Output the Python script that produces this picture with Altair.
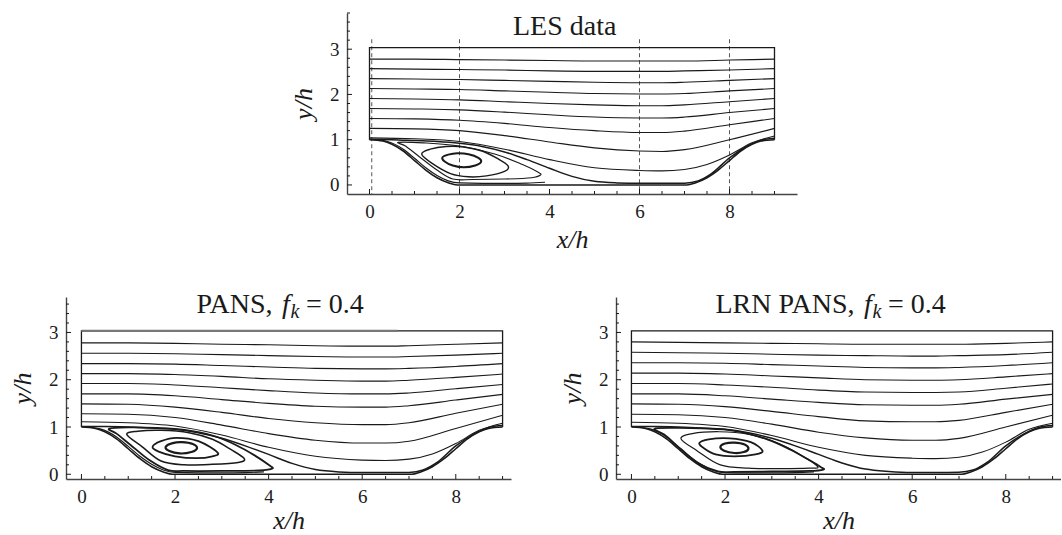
import altair as alt
import pandas as pd

FONT = "Liberation Serif"
INK = "#1a1a1a"

# ---------------- geometry (x/h, y/h) ----------------
BOX_X = [0, 0, 9, 9]
BOX_Y = [1.0, 3.035, 3.035, 1.0]
HILL_X = [0, 0.3, 0.5, 0.75, 1.0, 1.25, 1.5, 1.75, 1.95, 7.05, 7.25, 7.5, 7.75, 8.0, 8.25, 8.5, 8.7, 9.0]
HILL_Y = [1.0, 0.97, 0.9, 0.75, 0.54, 0.33, 0.16, 0.05, 0.0, 0.0, 0.05, 0.16, 0.33, 0.54, 0.75, 0.9, 0.97, 1.0]

GRID_X = [0, 1, 2, 3, 4, 5, 6, 6.5, 7, 8, 9]
TAIL_X = [0, 1, 2, 3, 4, 5, 6, 6.5, 7, 7.5, 8, 8.5, 9]
DIV_X = [0, 0.5, 1.0, 1.5, 2.0, 2.5, 3.0, 3.5, 4.0, 4.5, 5.0, 5.5, 6.0, 6.5, 7.0, 7.3, 7.6, 8.0, 8.4, 8.7, 9.0]
NW_X = [0.1, 0.4, 0.75, 1.0, 1.25, 1.5, 1.75, 2.0, 2.5, 3.0, 3.5, 3.9]

# ---------------- LES data ----------------
LES_L2 = [2.78, 2.78, 2.77, 2.76, 2.75, 2.74, 2.74, 2.74, 2.74, 2.76, 2.78]
LES_L3 = [2.57, 2.56, 2.55, 2.54, 2.52, 2.51, 2.51, 2.51, 2.52, 2.54, 2.57]
LES_L4 = [2.35, 2.34, 2.33, 2.31, 2.29, 2.27, 2.26, 2.26, 2.27, 2.31, 2.35]
LES_L5 = [2.13, 2.12, 2.11, 2.08, 2.05, 2.02, 2.01, 2.01, 2.02, 2.08, 2.13]
LES_L6 = [1.91, 1.90, 1.88, 1.84, 1.80, 1.77, 1.75, 1.75, 1.77, 1.84, 1.91]
LES_L7 = [1.69, 1.68, 1.66, 1.61, 1.55, 1.50, 1.48, 1.48, 1.50, 1.60, 1.69]
LES_L8 = [1.47, 1.46, 1.43, 1.36, 1.27, 1.20, 1.16, 1.16, 1.19, 1.33, 1.47]
LES_L9 = [1.25, 1.24, 1.20, 1.09, 0.95, 0.82, 0.75, 0.74, 0.78, 1.00, 1.25]
LES_L10 = [1.04, 1.02, 0.96, 0.79, 0.56, 0.38, 0.32, 0.31, 0.34, 0.45, 0.66, 0.93, 1.08]
LES_DIV = [1.01, 1.0, 0.98, 0.96, 0.92, 0.85, 0.73, 0.56, 0.37, 0.19, 0.08, 0.045, 0.035, 0.035, 0.04, 0.09, 0.25, 0.6, 0.86, 0.99, 1.03]
LES_NW = [1.0, 0.96, 0.79, 0.59, 0.38, 0.21, 0.09, 0.045, 0.035, 0.035, 0.04, 0.06]
LES_LOOP1_X = [0.64, 1.2, 2.0, 2.8, 3.4, 3.75, 3.8, 3.6, 3.0, 2.3, 1.85, 1.5, 1.1, 0.8]
LES_LOOP1_Y = [0.94, 0.93, 0.86, 0.68, 0.45, 0.28, 0.22, 0.16, 0.13, 0.12, 0.13, 0.33, 0.63, 0.86]
LES_LOOP2_X = [1.16, 1.35, 1.7, 2.1, 2.5, 2.85, 3.08, 3.0, 2.6, 2.2, 1.8, 1.4]
LES_LOOP2_Y = [0.68, 0.79, 0.85, 0.84, 0.75, 0.58, 0.42, 0.3, 0.2, 0.18, 0.25, 0.47]
LES_LOOP3_X = [1.62, 1.75, 1.95, 2.2, 2.42, 2.48, 2.35, 2.1, 1.85, 1.67]
LES_LOOP3_Y = [0.61, 0.67, 0.70, 0.68, 0.6, 0.51, 0.43, 0.39, 0.43, 0.52]
PROFILE_X = [0.05, 2, 6, 8]

# ---------------- PANS, f_k = 0.4 ----------------
PANS_L2 = [2.78, 2.78, 2.77, 2.75, 2.74, 2.72, 2.71, 2.71, 2.72, 2.75, 2.78]
PANS_L3 = [2.56, 2.56, 2.55, 2.53, 2.51, 2.49, 2.48, 2.48, 2.49, 2.52, 2.56]
PANS_L4 = [2.34, 2.34, 2.33, 2.30, 2.27, 2.24, 2.23, 2.23, 2.24, 2.28, 2.34]
PANS_L5 = [2.13, 2.13, 2.11, 2.07, 2.02, 1.99, 1.97, 1.97, 1.99, 2.05, 2.12]
PANS_L6 = [1.92, 1.92, 1.89, 1.83, 1.77, 1.72, 1.70, 1.70, 1.72, 1.81, 1.90]
PANS_L7 = [1.70, 1.70, 1.66, 1.58, 1.50, 1.44, 1.42, 1.42, 1.45, 1.57, 1.69]
PANS_L8 = [1.49, 1.48, 1.42, 1.31, 1.18, 1.09, 1.05, 1.05, 1.09, 1.29, 1.48]
PANS_L9 = [1.28, 1.27, 1.20, 1.04, 0.86, 0.72, 0.66, 0.66, 0.70, 0.97, 1.25]
PANS_L10 = [1.11, 1.09, 1.02, 0.83, 0.57, 0.38, 0.30, 0.29, 0.32, 0.43, 0.65, 0.93, 1.08]
PANS_DIV = [1.01, 1.01, 1.0, 0.98, 0.95, 0.88, 0.76, 0.6, 0.42, 0.23, 0.1, 0.05, 0.035, 0.035, 0.04, 0.09, 0.25, 0.6, 0.86, 0.99, 1.03]
PANS_NW = [1.0, 0.96, 0.79, 0.59, 0.38, 0.21, 0.09, 0.04, 0.03, 0.03, 0.035, 0.05]
PANS_TOP_X = [0, 6.75]
PANS_TOP_Y = [3.035, 3.035]
PANS_LOOP1_X = [0.59, 1.0, 1.6, 2.2, 2.8, 3.3, 3.7, 4.0, 4.08, 3.8, 3.0, 2.2, 1.85, 1.45, 1.05, 0.75]
PANS_LOOP1_Y = [0.96, 0.99, 0.98, 0.94, 0.82, 0.62, 0.4, 0.2, 0.12, 0.08, 0.07, 0.07, 0.09, 0.3, 0.62, 0.86]
PANS_LOOP2_X = [0.97, 1.2, 1.7, 2.3, 2.8, 3.2, 3.48, 3.35, 2.8, 2.2, 1.7, 1.3]
PANS_LOOP2_Y = [0.84, 0.91, 0.93, 0.88, 0.74, 0.52, 0.33, 0.25, 0.21, 0.2, 0.28, 0.58]
PANS_LOOP3_X = [1.52, 1.7, 2.03, 2.5, 2.91, 2.8, 2.46, 2.0, 1.65]
PANS_LOOP3_Y = [0.58, 0.7, 0.77, 0.7, 0.46, 0.38, 0.34, 0.38, 0.48]
PANS_LOOP4_X = [1.8, 1.95, 2.15, 2.38, 2.47, 2.35, 2.1, 1.88]
PANS_LOOP4_Y = [0.58, 0.66, 0.68, 0.64, 0.55, 0.47, 0.44, 0.49]

# ---------------- LRN PANS, f_k = 0.4 ----------------
LRN_L2 = [2.80, 2.79, 2.78, 2.77, 2.76, 2.75, 2.75, 2.75, 2.75, 2.77, 2.80]
LRN_L3 = [2.58, 2.57, 2.56, 2.54, 2.52, 2.51, 2.50, 2.50, 2.51, 2.53, 2.58]
LRN_L4 = [2.36, 2.36, 2.35, 2.32, 2.29, 2.26, 2.25, 2.25, 2.26, 2.30, 2.36]
LRN_L5 = [2.14, 2.14, 2.12, 2.08, 2.04, 2.00, 1.99, 1.99, 2.00, 2.06, 2.13]
LRN_L6 = [1.92, 1.92, 1.89, 1.84, 1.78, 1.74, 1.73, 1.73, 1.74, 1.82, 1.91]
LRN_L7 = [1.70, 1.70, 1.66, 1.59, 1.52, 1.47, 1.46, 1.46, 1.48, 1.59, 1.69]
LRN_L8 = [1.49, 1.48, 1.43, 1.33, 1.22, 1.13, 1.11, 1.11, 1.14, 1.31, 1.48]
LRN_L9 = [1.27, 1.26, 1.20, 1.06, 0.89, 0.77, 0.72, 0.72, 0.76, 1.00, 1.25]
LRN_L10 = [1.10, 1.08, 1.01, 0.82, 0.57, 0.40, 0.34, 0.33, 0.36, 0.47, 0.68, 0.95, 1.08]
LRN_DIV = [1.01, 1.01, 1.0, 0.98, 0.95, 0.88, 0.76, 0.6, 0.42, 0.24, 0.11, 0.06, 0.04, 0.04, 0.045, 0.09, 0.25, 0.6, 0.86, 0.99, 1.03]
LRN_NW = [1.0, 0.96, 0.79, 0.58, 0.37, 0.2, 0.08, 0.035, 0.03, 0.03, 0.035, 0.05]
LRN_LOOP1_X = [0.49, 0.9, 1.5, 2.2, 2.9, 3.4, 3.8, 4.05, 4.1, 3.8, 3.0, 2.2, 1.85, 1.45, 1.05, 0.7]
LRN_LOOP1_Y = [0.96, 0.98, 0.97, 0.92, 0.74, 0.52, 0.3, 0.15, 0.1, 0.07, 0.06, 0.05, 0.06, 0.22, 0.54, 0.84]
LRN_LOOP2_X = [1.06, 1.3, 1.87, 2.5, 3.1, 3.6, 3.98, 3.8, 3.2, 2.5, 1.9, 1.4]
LRN_LOOP2_Y = [0.75, 0.86, 0.9, 0.85, 0.67, 0.42, 0.16, 0.13, 0.12, 0.13, 0.2, 0.5]
LRN_LOOP3_X = [1.45, 1.65, 2.1, 2.55, 2.8, 2.65, 2.2, 1.8, 1.55]
LRN_LOOP3_Y = [0.66, 0.74, 0.76, 0.68, 0.5, 0.42, 0.38, 0.42, 0.55]
LRN_LOOP4_X = [1.9, 2.0, 2.2, 2.42, 2.5, 2.4, 2.2, 1.98]
LRN_LOOP4_Y = [0.58, 0.65, 0.67, 0.63, 0.54, 0.47, 0.45, 0.5]

# ---------------- axis ticks ----------------
Y_MAJOR = [0, 1, 2, 3]
Y_MINOR = [0.2, 0.4, 0.6, 0.8, 1.2, 1.4, 1.6, 1.8, 2.2, 2.4, 2.6, 2.8, 3.2, 3.4, 3.6, 3.8]
X_MAJOR = [0, 2, 4, 6, 8]
X_MINOR = [0.5, 1, 1.5, 2.5, 3, 3.5, 4.5, 5, 5.5, 6.5, 7, 7.5, 8.5, 9]


def lines_df(items):
    rows = []
    for name, xs, ys, w in items:
        for i, (x, y) in enumerate(zip(xs, ys)):
            rows.append({"id": name, "o": i, "x": x, "y": y, "w": w})
    return pd.DataFrame(rows)


def text_layer(s, px, py, size, italic=False):
    return alt.Chart(pd.DataFrame({"a": [0]})).mark_text(
        text=s, align="left", baseline="alphabetic", font=FONT, fontSize=size,
        fontStyle="italic" if italic else "normal", color=INK
    ).encode(x=alt.value(px), y=alt.value(py))


def panel(opens, loops, extras, w, h, xdom, ydom, title_parts, profiles=None, xtp=5):
    xs = alt.Scale(domain=xdom, nice=False, zero=False)
    ys = alt.Scale(domain=ydom, nice=False, zero=False)
    xax = alt.Axis(values=X_MAJOR, titlePadding=xtp)
    yax = alt.Axis(values=Y_MAJOR, titlePadding=13)

    def X(f):
        return alt.X(f, type="quantitative", scale=xs, axis=xax, title="x/h")

    def Y(f):
        return alt.Y(f, type="quantitative", scale=ys, axis=yax, title="y/h")

    layers = []
    if profiles is not None:
        layers.append(
            alt.Chart(pd.DataFrame({"x": profiles})).mark_rule(
                strokeDash=[4, 3], color="#555", strokeWidth=1
            ).encode(x=X("x"), y=alt.datum(3.22), y2=alt.value(h))
        )
    layers.append(
        alt.Chart(lines_df([("box", BOX_X, BOX_Y, 1.3)])).mark_line(
            interpolate="linear", color=INK
        ).encode(x=X("x"), y=Y("y"), order="o:Q",
                 strokeWidth=alt.StrokeWidth("w:Q", scale=None))
    )
    for ex in extras:
        layers.append(ex(X, Y))
    layers.append(
        alt.Chart(lines_df([("hill", HILL_X, HILL_Y, 1.6)] + opens)).mark_line(
            interpolate="monotone", color=INK
        ).encode(x=X("x"), y=Y("y"), detail="id:N", order="o:Q",
                 strokeWidth=alt.StrokeWidth("w:Q", scale=None))
    )
    layers.append(
        alt.Chart(lines_df(loops)).mark_line(
            interpolate="cardinal-closed", color=INK
        ).encode(x=X("x"), y=Y("y"), detail="id:N", order="o:Q",
                 strokeWidth=alt.StrokeWidth("w:Q", scale=None))
    )
    ymin = [v for v in Y_MINOR if ydom[0] <= v <= ydom[1]]
    xmin = [v for v in X_MINOR if xdom[0] <= v <= xdom[1]]
    layers.append(alt.Chart(pd.DataFrame({"t": ymin})).mark_rule(color=INK, strokeWidth=1).encode(
        y=Y("t"), x=alt.value(0), x2=alt.value(3)))
    layers.append(alt.Chart(pd.DataFrame({"t": Y_MAJOR})).mark_rule(color=INK, strokeWidth=1).encode(
        y=Y("t"), x=alt.value(0), x2=alt.value(5)))
    layers.append(alt.Chart(pd.DataFrame({"t": xmin})).mark_rule(color=INK, strokeWidth=1).encode(
        x=X("t"), y=alt.value(h), y2=alt.value(h - 3)))
    layers.append(alt.Chart(pd.DataFrame({"t": X_MAJOR})).mark_rule(color=INK, strokeWidth=1).encode(
        x=X("t"), y=alt.value(h), y2=alt.value(h - 5)))
    for (s, px, py, size, it) in title_parts:
        layers.append(text_layer(s, px, py, size, it))
    return alt.layer(*layers).properties(width=w, height=h)


def std_opens(L, L10, DIV, NW):
    out = []
    for i, ys in enumerate(L):
        out.append((f"L{i + 2}", GRID_X, ys, 1.1))
    out.append(("L10", TAIL_X, L10, 1.1))
    out.append(("DIV", DIV_X, DIV, 1.5))
    out.append(("NW", NW_X, NW, 1.2))
    return out


les = panel(
    std_opens([LES_L2, LES_L3, LES_L4, LES_L5, LES_L6, LES_L7, LES_L8, LES_L9], LES_L10, LES_DIV, LES_NW),
    [("c1", LES_LOOP1_X, LES_LOOP1_Y, 1.1), ("c2", LES_LOOP2_X, LES_LOOP2_Y, 1.4),
     ("c3", LES_LOOP3_X, LES_LOOP3_Y, 2.0)],
    [], 450, 181, [-0.5, 9.5], [-0.2, 3.8],
    [("LES data", 166, 22, 28, False)],
    profiles=PROFILE_X, xtp=5,
)


def pans_top(X, Y):
    return alt.Chart(pd.DataFrame({"x": PANS_TOP_X, "y": PANS_TOP_Y})).mark_line(
        color="#777", strokeWidth=2.2).encode(x=X("x"), y=Y("y"))


pans = panel(
    std_opens([PANS_L2, PANS_L3, PANS_L4, PANS_L5, PANS_L6, PANS_L7, PANS_L8, PANS_L9], PANS_L10, PANS_DIV, PANS_NW),
    [("c1", PANS_LOOP1_X, PANS_LOOP1_Y, 1.8), ("c2", PANS_LOOP2_X, PANS_LOOP2_Y, 1.5),
     ("c3", PANS_LOOP3_X, PANS_LOOP3_Y, 1.8), ("c4", PANS_LOOP4_X, PANS_LOOP4_Y, 2.2)],
    [pans_top], 445, 182, [-0.33, 9.18], [-0.1, 3.75],
    [("PANS,", 130.5, 16, 28, False), ("f", 216, 16, 28, True),
     ("k", 224.5, 21, 20, True), ("= 0.4", 240, 16, 28, False)],
    xtp=1,
)

lrn = panel(
    std_opens([LRN_L2, LRN_L3, LRN_L4, LRN_L5, LRN_L6, LRN_L7, LRN_L8, LRN_L9], LRN_L10, LRN_DIV, LRN_NW),
    [("c1", LRN_LOOP1_X, LRN_LOOP1_Y, 1.8), ("c2", LRN_LOOP2_X, LRN_LOOP2_Y, 1.2),
     ("c3", LRN_LOOP3_X, LRN_LOOP3_Y, 1.8), ("c4", LRN_LOOP4_X, LRN_LOOP4_Y, 2.2)],
    [], 445, 182, [-0.33, 9.18], [-0.1, 3.75],
    [("LRN PANS,", 99.5, 16, 28, False), ("f", 248, 16, 28, True),
     ("k", 256.5, 21, 20, True), ("= 0.4", 272, 16, 28, False)],
    xtp=1,
)

spacer = alt.Chart(pd.DataFrame({"a": [0]})).mark_point(opacity=0).encode(
    x=alt.value(0), y=alt.value(0)).properties(width=281, height=181)

top_row = alt.hconcat(spacer, les, spacing=0, bounds="flush")
bottom_row = alt.hconcat(pans, lrn, spacing=105, bounds="flush")

chart = alt.vconcat(top_row, bottom_row, spacing=39).properties(
    padding={"left": 9, "top": 10, "right": 0, "bottom": 0}
).configure_view(strokeWidth=0).configure_axis(
    labelFont=FONT, labelFontSize=19, labelColor=INK, labelPadding=8,
    titleFont=FONT, titleFontSize=26, titleFontStyle="italic", titleFontWeight="normal",
    titleColor=INK, domainColor="#444", domainWidth=1.4, ticks=False, grid=False,
)

chart.save("out.html", embed_options={"renderer": "svg", "actions": False})
